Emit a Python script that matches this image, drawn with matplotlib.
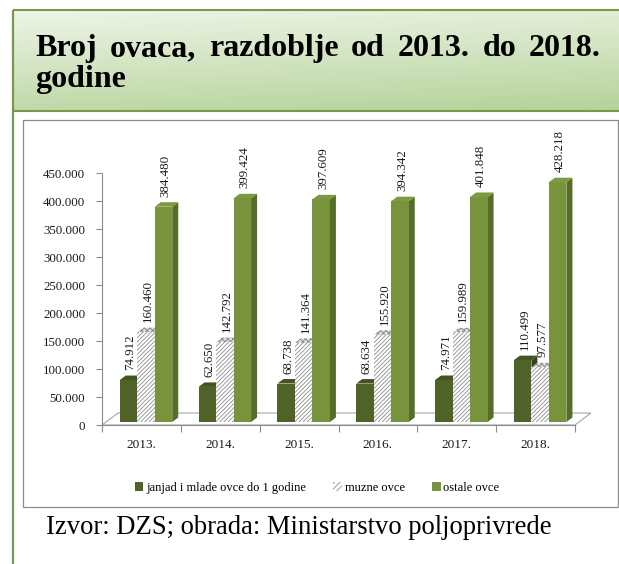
import matplotlib
matplotlib.use('Agg')
import matplotlib.pyplot as plt
import numpy as np
from matplotlib.patches import Rectangle, Polygon, Patch
import matplotlib.transforms as mtransforms

# ---------------- data ----------------
years = ['2013.', '2014.', '2015.', '2016.', '2017.', '2018.']
janjad = [74912, 62650, 68738, 68634, 74971, 110499]
muzne = [160460, 142792, 141364, 155920, 159989, 97577]
ostale = [384480, 399424, 397609, 394342, 401848, 428218]
series_names = ['janjad i mlade ovce do 1 godine', 'muzne ovce', 'ostale ovce']
title_line1 = 'Broj ovaca, razdoblje od 2013. do 2018.'
title_line2 = 'godine'
source_text = 'Izvor: DZS; obrada: Ministarstvo poljoprivrede'
yticks = list(range(0, 450001, 50000))

plt.rcParams['font.family'] = ['Liberation Serif', 'DejaVu Serif']
plt.rcParams['hatch.linewidth'] = 0.7

def fmt(v):
    return f"{v:,.0f}".replace(',', '.')

W, H = 619, 564
fig = plt.figure(figsize=(W / 100, H / 100), dpi=100)
fig.patch.set_facecolor('white')

# ---------------- background decorations (pixel coords) ----------------
bg = fig.add_axes([0, 0, 1, 1])
bg.set_xlim(0, W)
bg.set_ylim(H, 0)
bg.axis('off')

gy = np.linspace(0, 1, 120)[:, None]
gx = np.linspace(0, 1, 300)[None, :]
t = np.clip(0.8 * gy + 0.2 * gx, 0, 1)
c_top = np.array([238, 245, 231]) / 255
c_bot = np.array([180, 210, 153]) / 255
img = c_top[None, None, :] * (1 - t[..., None]) + c_bot[None, None, :] * t[..., None]
bg.imshow(img, extent=[13, W, 111, 10], aspect='auto', zorder=0, interpolation='bilinear')

green = '#76994A'
bg.plot([13, W], [10, 10], color=green, lw=1.5, zorder=1, solid_capstyle='butt')
bg.plot([13, W], [111, 111], color=green, lw=1.5, zorder=1, solid_capstyle='butt')
bg.plot([13, 13], [10, H], color=green, lw=1.6, zorder=1, solid_capstyle='butt')
bg.add_patch(Rectangle((23, 120), 595, 387, fill=False, ec='#8c8c8c', lw=0.9, zorder=1))

# ---------------- chart axes ----------------
ax = fig.add_axes([102 / W, (H - 425) / H, (575 - 102) / W, 252 / H])
ax.set_zorder(2)
ax.patch.set_alpha(0)
ax.set_xlim(0, 6)
ax.set_ylim(0, 450000)
for s in ['top', 'right']:
    ax.spines[s].set_visible(False)
for s in ['left', 'bottom']:
    ax.spines[s].set_color('#8c8c8c')
    ax.spines[s].set_linewidth(0.8)

ax.set_yticks(yticks)
ax.set_yticklabels([fmt(v) for v in yticks], fontsize=9.3, color='#1a1a1a')
ax.tick_params(axis='y', length=4, color='#8c8c8c', width=0.8, pad=8)
ax.set_xticks(np.arange(len(years)) + 0.5)
ax.set_xticklabels(years, fontsize=9.5, color='#1a1a1a')
ax.set_xticks(np.arange(len(years) + 1), minor=True)
ax.tick_params(axis='x', which='major', length=0, pad=10)
ax.tick_params(axis='x', which='minor', length=5, color='#8c8c8c', width=0.8)

ident = mtransforms.IdentityTransform()

def disp(x, y):
    return np.array(ax.transData.transform((x, y)))

# floor
fd = np.array([16, 12])
p0 = disp(0, 0)
p1 = disp(len(years), 0)
ax.add_patch(Polygon([p0, p1, p1 + fd, p0 + fd], closed=True, transform=ident,
                     fc='white', ec='#a6a6a6', lw=0.8, zorder=1, clip_on=False))

# bars
bw = 0.222
start = 0.225
base_off = np.array([0, 3])
depth = np.array([6, 4.5])
off_tr = ax.transData + mtransforms.ScaledTranslation(0, base_off[1] / 100, fig.dpi_scale_trans)
lab_tr = ax.transData + mtransforms.ScaledTranslation(2 / 100, 13 / 100, fig.dpi_scale_trans)

styles = [
    dict(front='#4F6228', top='#43551F', side='#38471B', hatch=None),
    dict(front='white', top='#d0d0d0', side='#bdbdbd', hatch='////////'),
    dict(front='#77933C', top='#7C9A40', side='#546D29', hatch=None),
]
data = [janjad, muzne, ostale]

z = 3
for c in range(len(years)):
    for i, vals in enumerate(data):
        st = styles[i]
        h = vals[c]
        xl = c + start + i * bw
        xr = xl + bw
        BR = disp(xr, 0) + base_off
        TL = disp(xl, h) + base_off
        TR = disp(xr, h) + base_off
        ax.add_patch(Polygon([BR, TR, TR + depth, BR + depth], closed=True, transform=ident,
                             fc=st['side'], ec='none', zorder=z, clip_on=False))
        if st['hatch']:
            ax.add_patch(Polygon([TL, TR, TR + depth, TL + depth], closed=True, transform=ident,
                                 fc='#e0e0e0', ec='#8a8a8a', lw=0, hatch='xxxxxx',
                                 zorder=z + 1, clip_on=False))
            b = ax.bar(xl, h, width=bw, align='edge', color='white', edgecolor='#9a9a9a',
                       linewidth=0, hatch=st['hatch'], transform=off_tr, zorder=z + 2)
        else:
            ax.add_patch(Polygon([TL, TR, TR + depth, TL + depth], closed=True, transform=ident,
                                 fc=st['top'], ec='none', zorder=z + 1, clip_on=False))
            b = ax.bar(xl, h, width=bw, align='edge', color=st['front'], linewidth=0,
                       transform=off_tr, zorder=z + 2)
        for p in b:
            p.set_clip_on(False)
        ax.text(xl + bw / 2, h, fmt(h), rotation=90, ha='center', va='bottom',
                fontsize=9.3, color='#1a1a1a', transform=lab_tr, zorder=50)
        z += 3

# legend
handles = [Patch(facecolor=styles[0]['front'], edgecolor='none'),
           Patch(facecolor='white', edgecolor='#9a9a9a', linewidth=0, hatch='//////'),
           Patch(facecolor=styles[2]['front'], edgecolor='none')]
fig.legend(handles, series_names, loc='center', bbox_to_anchor=(317 / W, 1 - 488 / H),
           ncol=3, frameon=False, fontsize=9, handlelength=0.7, handleheight=0.7,
           handletextpad=0.2, columnspacing=2.2, borderaxespad=0)

# ---------------- title (justified) ----------------
words = title_line1.split()
title_kw = dict(fontsize=23, fontweight='bold', color='black', va='baseline', ha='left')
tobjs = [fig.text(0, 1 - 56 / H, w, **title_kw) for w in words]
fig.canvas.draw()
rend = fig.canvas.get_renderer()
widths = [tt.get_window_extent(rend).width for tt in tobjs]
left_px, right_px = 35, 601
gap = (right_px - left_px - sum(widths)) / (len(words) - 1)
xpos = left_px
for tt, wd in zip(tobjs, widths):
    tt.set_x(xpos / W)
    xpos += wd + gap
fig.text(left_px / W, 1 - 87 / H, title_line2, **title_kw)

# source
fig.text(46 / W, 1 - 534 / H, source_text, fontsize=19.2, color='black', va='baseline', ha='left')

fig.savefig('out.png', dpi=100)
